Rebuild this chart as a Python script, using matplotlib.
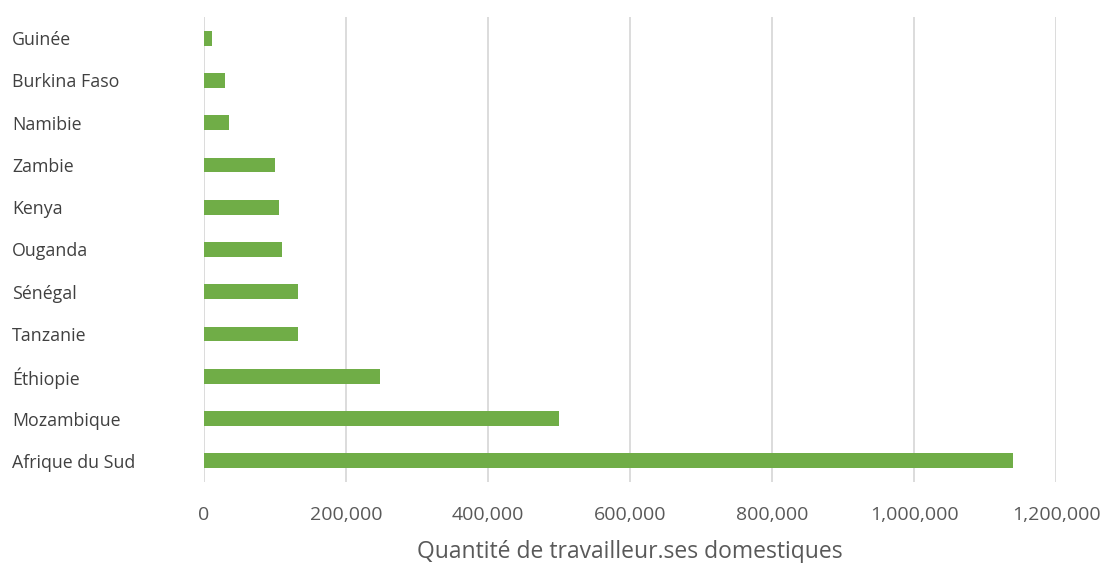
import numpy as np
import matplotlib.pyplot as plt
from matplotlib.ticker import FuncFormatter

# domestic workers by country (top to bottom as displayed)
pays = ["Guinée", "Burkina Faso", "Namibie", "Zambie", "Kenya", "Ouganda",
        "Sénégal", "Tanzanie", "Éthiopie", "Mozambique", "Afrique du Sud"]
travailleurs = [11000, 30000, 35000, 100000, 105000, 110000,
                132000, 133000, 248000, 500000, 1140000]
xticks = [0, 200000, 400000, 600000, 800000, 1000000, 1200000]

plt.rcParams['font.family'] = ['Open Sans', 'DejaVu Sans']

fig = plt.figure(figsize=(11.06, 5.63), dpi=100)
ax = fig.add_axes([204/1106, 81/563, 852/1106, 465/563])

y = np.arange(len(pays))
ax.barh(y, travailleurs, height=0.35, color='#70AD47', zorder=3)
ax.set_ylim(len(pays) - 0.5, -0.5)
ax.set_xlim(0, 1200000)

ax.set_xticks(xticks)
ax.xaxis.set_major_formatter(FuncFormatter(lambda v, p: f"{int(v):,}"))
ax.grid(axis='x', color='#D9D9D9', linewidth=1.3, zorder=0)
for s in ax.spines.values():
    s.set_visible(False)

ax.set_yticks(y)
ax.set_yticklabels(pays)
for lab in ax.get_yticklabels():
    lab.set_ha('left')
    lab.set_va('center_baseline')
ax.tick_params(axis='y', length=0, pad=138, labelsize=12.8, labelcolor='#404040')
ax.tick_params(axis='x', length=0, pad=17, labelsize=14, labelcolor='#595959')

ax.set_xlabel("Quantité de travailleur.ses domestiques", fontsize=16.5,
              color='#595959', labelpad=12)

fig.savefig("out.png", dpi=100)
